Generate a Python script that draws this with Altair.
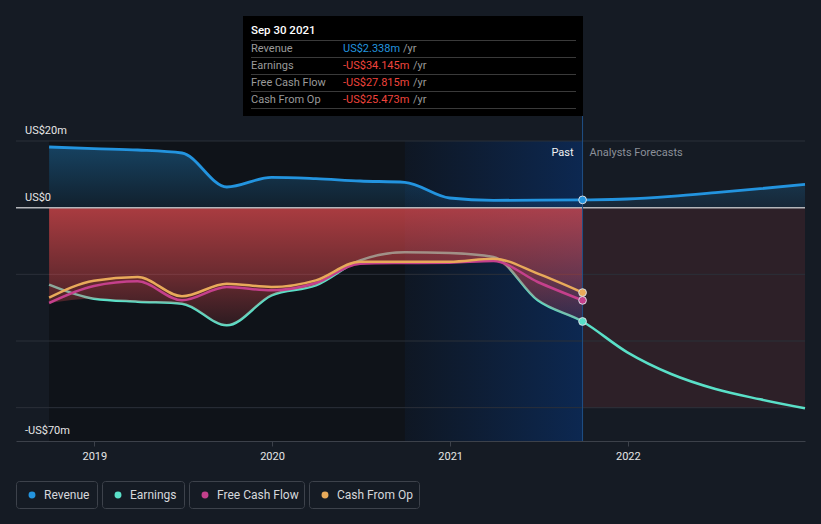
import altair as alt
import pandas as pd

# ---------------- data ----------------
past_dates = ["2018-09-30", "2018-12-31", "2019-03-31", "2019-06-30", "2019-09-30",
              "2019-12-31", "2020-03-31", "2020-06-30", "2020-09-30", "2020-12-31",
              "2021-03-31", "2021-06-30", "2021-09-30"]
revenue_past = [18.2, 17.7, 17.3, 16.4, 6.2, 9.1, 8.7, 8.0, 7.6, 2.9, 2.2, 2.25, 2.338]
earnings_past = [-23.1, -27.3, -28.2, -28.8, -35.3, -26.3, -23.3, -15.8, -13.4, -13.6, -14.8, -27.8, -34.145]
fcf_past = [-28.6, -23.5, -22.1, -27.8, -23.8, -24.8, -22.6, -16.8, -16.6, -16.5, -16.0, -22.3, -27.815]
cfo_past = [-27.0, -21.9, -20.8, -26.6, -22.8, -23.8, -21.8, -16.2, -16.2, -16.2, -15.3, -19.8, -25.473]

forecast_dates = ["2021-09-30", "2021-12-31", "2022-03-31", "2022-06-30", "2022-09-30", "2022-12-31"]
revenue_forecast = [2.338, 2.6, 3.4, 4.5, 5.7, 7.0]
earnings_forecast = [-34.145, -43.4, -49.9, -54.4, -57.5, -60.2]

series_names = ["Revenue", "Earnings", "Free Cash Flow", "Cash From Op"]
series_colors = ["#2394df", "#5ae0c8", "#c4408c", "#e8aa5a"]
y_label_values = [20, 0, -70]
y_label_texts = ["US$20m", "US$0", "-US$70m"]
grid_values = [20, -20, -40, -60]
x_tick_years = [2019, 2020, 2021, 2022]

# ---------------- tables ----------------
past_df = pd.DataFrame({"date": past_dates, "revenue": revenue_past, "earnings": earnings_past,
                        "fcf": fcf_past, "cfo": cfo_past})
past_df["low"] = past_df[["earnings", "fcf", "cfo"]].min(axis=1)
past_df["zero"] = 0.0

rev_df = pd.DataFrame({"date": past_dates + forecast_dates[1:],
                       "value": revenue_past + revenue_forecast[1:]})
rev_df["zero"] = 0.0
earn_df = pd.DataFrame({"date": past_dates + forecast_dates[1:],
                        "value": earnings_past + earnings_forecast[1:]})

last = past_df.iloc[-1]
last_vals = [last["revenue"], last["earnings"], last["fcf"], last["cfo"]]
pts_df = pd.DataFrame({"date": [past_dates[-1]] * 4, "value": last_vals,
                       "series": series_names})

FONT = "Roboto"
BG = "#151b24"

xscale = alt.Scale(type="utc",
                   domain=[alt.DateTime(year=2018, month=7, date=24, utc=True),
                           alt.DateTime(year=2022, month=12, date=31, utc=True)])
xaxis = alt.Axis(values=[alt.DateTime(year=y, month=1, date=1, utc=True) for y in x_tick_years],
                 format="%Y", title=None, grid=False, labelColor="#e6e6e6", labelFontSize=11,
                 labelFont=FONT, tickColor="#3c414a", domainColor="#3c414a", tickSize=5,
                 labelPadding=4, domainWidth=1)
yscale = alt.Scale(domain=[-70, 20], nice=False, zero=False)

X = alt.X("date:T", scale=xscale, axis=xaxis)


def Y(field):
    return alt.Y(field, type="quantitative", scale=yscale, axis=None)


one = pd.DataFrame({"k": [0]})

# background of past period
bg_past = alt.Chart(pd.DataFrame({"start": [past_dates[0]], "end": [past_dates[-1]]})).mark_rect(
    color="#0f1319").encode(
    x=alt.X("start:T", scale=xscale, axis=xaxis), x2="end:T",
    y=alt.value(0), y2=alt.value(300))

# highlight of last year of past
hl = alt.Chart(pd.DataFrame({"start": [past_dates[-5]], "end": [past_dates[-1]]})).mark_rect(
    color=alt.Gradient(gradient="linear", x1=0, x2=1, y1=0, y2=0,
                       stops=[alt.GradientStop(color="rgba(12,52,112,0.12)", offset=0),
                              alt.GradientStop(color="rgba(10,55,122,0.58)", offset=1)])).encode(
    x=alt.X("start:T", scale=xscale, axis=xaxis), x2="end:T",
    y=alt.value(0), y2=alt.value(300))

# forecast red block
fc_rect = alt.Chart(pd.DataFrame({"start": [forecast_dates[0]], "end": [forecast_dates[-1]],
                                  "top": [0.0], "bottom": [min(earnings_forecast)]})).mark_rect(
    color="rgba(224,74,78,0.12)").encode(
    x=alt.X("start:T", scale=xscale, axis=xaxis), x2="end:T",
    y=Y("top"), y2="bottom:Q")

grid = alt.Chart(pd.DataFrame({"g": grid_values})).mark_rule(color="#2b3039", strokeWidth=1).encode(
    y=Y("g"))
zero_line = alt.Chart(pd.DataFrame({"z": [0]})).mark_rule(color="#b4b6ba", strokeWidth=1.5).encode(
    y=Y("z"))

rev_area = alt.Chart(rev_df).mark_area(
    interpolate="monotone",
    color=alt.Gradient(gradient="linear", x1=0, x2=0, y1=0, y2=1,
                       stops=[alt.GradientStop(color="rgba(35,148,223,0.36)", offset=0),
                              alt.GradientStop(color="rgba(35,148,223,0.10)", offset=1)])).encode(
    x=X, y=Y("value"), y2="zero:Q")

earn_line = alt.Chart(earn_df).mark_line(interpolate="monotone", color=series_colors[1],
                                         strokeWidth=2.5).encode(x=X, y=Y("value"))

red_area = alt.Chart(past_df).mark_area(
    interpolate="monotone",
    color=alt.Gradient(gradient="linear", x1=0, x2=0, y1=0, y2=1,
                       stops=[alt.GradientStop(color="rgba(224,74,78,0.74)", offset=0),
                              alt.GradientStop(color="rgba(224,74,78,0.42)", offset=0.6),
                              alt.GradientStop(color="rgba(224,74,78,0.14)", offset=1)])).encode(
    x=X, y=Y("zero"), y2="low:Q")

fcf_line = alt.Chart(past_df).mark_line(interpolate="monotone", color=series_colors[2],
                                        strokeWidth=2.5).encode(x=X, y=Y("fcf"))
cfo_line = alt.Chart(past_df).mark_line(interpolate="monotone", color=series_colors[3],
                                        strokeWidth=2.5).encode(x=X, y=Y("cfo"))
rev_line = alt.Chart(rev_df).mark_line(interpolate="monotone", color=series_colors[0],
                                       strokeWidth=2.8).encode(x=X, y=Y("value"))

vline = alt.Chart(pd.DataFrame({"date": [past_dates[-1]]})).mark_rule(
    color="#1f4f86", strokeWidth=1).encode(x=X, y=alt.value(-25), y2=alt.value(300))

points = alt.Chart(pts_df).mark_point(filled=True, size=60, opacity=1, stroke="#d8dce2",
                                      strokeWidth=1, shape="circle").encode(
    x=X, y=Y("value"),
    fill=alt.Fill("series:N", scale=alt.Scale(domain=series_names, range=series_colors), legend=None))

ylabels = alt.Chart(pd.DataFrame({"v": y_label_values, "t": y_label_texts})).mark_text(
    align="left", baseline="alphabetic", dy=-7, font=FONT, fontSize=11, color="#e6e6e6").encode(
    x=alt.value(9), y=Y("v"), text="t:N")

past_lbl = alt.Chart(pd.DataFrame({"date": [past_dates[-1]], "t": ["Past"]})).mark_text(
    align="right", baseline="middle", dx=-9, font=FONT, fontSize=11, color="#f2f2f2").encode(
    x=X, y=alt.value(12), text="t:N")
fc_lbl = alt.Chart(pd.DataFrame({"date": [past_dates[-1]], "t": ["Analysts Forecasts"]})).mark_text(
    align="left", baseline="middle", dx=7, font=FONT, fontSize=11, color="#8b9099").encode(
    x=X, y=alt.value(12), text="t:N")

# ---------------- tooltip box ----------------
def fmt(v):
    return ("-US$%.3fm" % abs(v)) if v < 0 else ("US$%.3fm" % v)


tip_layers = [alt.Chart(one).mark_rect(color="#000000").encode(
    x=alt.value(227), x2=alt.value(567), y=alt.value(-125), y2=alt.value(-25))]
header = pd.Timestamp(past_dates[-1]).strftime("%b %d %Y")
tip_layers.append(alt.Chart(pd.DataFrame({"t": [header]})).mark_text(
    align="left", baseline="middle", font=FONT, fontSize=11.5, fontWeight=500, color="#ffffff").encode(
    x=alt.value(235), y=alt.value(-110), text="t:N"))
sep_ys = [-100.5, -83.5, -66.5, -49.5, -32.5]
for sy in sep_ys:
    tip_layers.append(alt.Chart(one).mark_rule(color="#3a3a3a", strokeWidth=1).encode(
        x=alt.value(235), x2=alt.value(560), y=alt.value(sy)))
row_ys = [-92, -75, -58, -41]
yr_xs = [387, 397, 397, 397]
for i, name in enumerate(series_names):
    v = last_vals[i]
    vcol = "#2394df" if v >= 0 else "#f0443c"
    tip_layers.append(alt.Chart(pd.DataFrame({"t": [name]})).mark_text(
        align="left", baseline="middle", font=FONT, fontSize=11, color="#9a9a9a").encode(
        x=alt.value(235), y=alt.value(row_ys[i]), text="t:N"))
    tip_layers.append(alt.Chart(pd.DataFrame({"t": [fmt(v)]})).mark_text(
        align="left", baseline="middle", font=FONT, fontSize=11, color=vcol).encode(
        x=alt.value(327), y=alt.value(row_ys[i]), text="t:N"))
    tip_layers.append(alt.Chart(pd.DataFrame({"t": ["/yr"]})).mark_text(
        align="left", baseline="middle", font=FONT, fontSize=11, color="#9a9a9a").encode(
        x=alt.value(yr_xs[i]), y=alt.value(row_ys[i]), text="t:N"))

# ---------------- legend ----------------
leg_boxes = [(0, 81), (86, 168), (173, 288), (293, 403)]
leg_layers = []
for i, name in enumerate(series_names):
    x0, x1 = leg_boxes[i]
    leg_layers.append(alt.Chart(one).mark_rect(fill=BG, stroke="#3d424b", strokeWidth=1,
                                               cornerRadius=3).encode(
        x=alt.value(x0 + 0.5), x2=alt.value(x1 + 0.5), y=alt.value(340.5), y2=alt.value(367.5)))
    leg_layers.append(alt.Chart(one).mark_point(filled=True, size=48, opacity=1,
                                                color=series_colors[i], shape="circle").encode(
        x=alt.value(x0 + 16), y=alt.value(354)))
    leg_layers.append(alt.Chart(pd.DataFrame({"t": [name]})).mark_text(
        align="left", baseline="middle", font=FONT, fontSize=12, color="#d6d8dc").encode(
        x=alt.value(x0 + 28), y=alt.value(354), text="t:N"))

chart = alt.layer(
    bg_past, hl, fc_rect, grid, rev_area, earn_line, red_area, zero_line,
    fcf_line, cfo_line, rev_line, vline, points, ylabels, past_lbl, fc_lbl,
    *tip_layers, *leg_layers
).properties(
    width=789, height=300,
    autosize=alt.AutoSizeParams(type="none"),
    padding={"left": 16, "top": 141, "right": 16, "bottom": 83},
    background=BG,
).configure_view(strokeWidth=0)

chart.save("out.html", embed_options={"renderer": "svg", "actions": False})
